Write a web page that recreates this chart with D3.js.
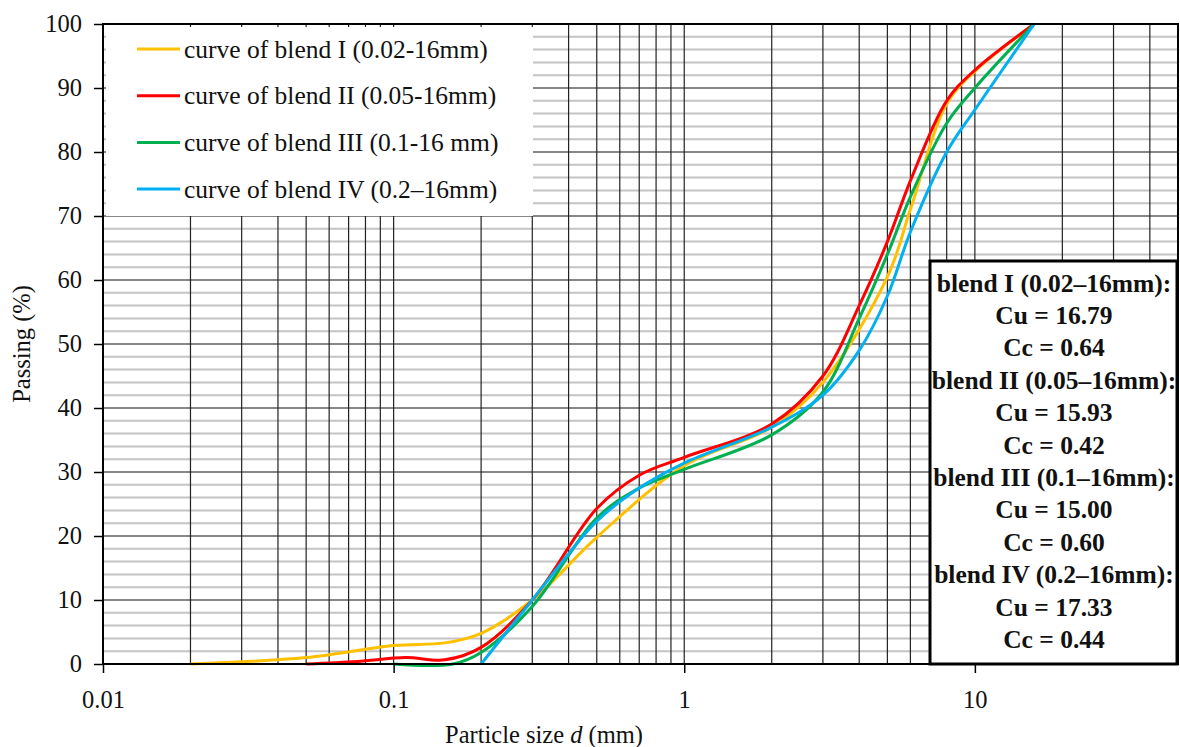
<!DOCTYPE html>
<html>
<head>
<meta charset="utf-8">
<script src="https://cdn.jsdelivr.net/npm/d3@7"></script>
<style>
  body { margin: 0; background: #fff; }
  svg text { font-family: "Liberation Serif", "Times New Roman", serif; fill: #111; }
</style>
</head>
<body>
<svg id="chart" width="1180" height="747"></svg>
<script>
// particle size (mm) and passing (%)
var sizesI = [0.02, 0.05, 0.1, 0.15, 0.2, 0.3, 0.5, 1, 2, 3, 5, 6, 8, 10, 16];
var passingI = [0, 1.0, 2.9, 3.3, 4.8, 10, 19.8, 31, 37, 44, 60.5, 71, 87.5, 92.6, 100];

var sizesII = [0.05, 0.075, 0.11, 0.15, 0.2, 0.3, 0.5, 0.7, 1, 2, 3, 4, 5, 6, 8, 10, 16];
var passingII = [0, 0.4, 1.0, 0.65, 2.6, 10, 24.3, 29.5, 32.3, 37.5, 45, 56, 66, 75.5, 88, 92.8, 100];

var sizesIII = [0.1, 0.16, 0.2, 0.3, 0.5, 0.7, 1, 2, 3, 4, 5, 6, 8, 10, 16];
var passingIII = [0, 0, 1.8, 9, 22.8, 27.5, 30.4, 35.8, 42.5, 54, 64, 73, 84.5, 90, 100];

var sizesIV = [0.2, 0.3, 0.5, 0.7, 1, 2, 3, 4, 5, 6, 8, 10, 16];
var passingIV = [0, 10, 22.3, 27.5, 31.4, 37, 42, 49, 57.5, 67.5, 80, 86.6, 100];

var seriesNames = ["curve of blend I (0.02-16mm)", "curve of blend II (0.05-16mm)", "curve of blend III (0.1-16 mm)", "curve of blend IV (0.2\u201316mm)"];
var seriesColors = ["#ffc000", "#ff0000", "#00b050", "#00b0f0"];

var blendLabels = ["blend I (0.02\u201316mm):", "blend II (0.05\u201316mm):", "blend III (0.1\u201316mm):", "blend IV (0.2\u201316mm):"];
var cuValues = ["16.79", "15.93", "15.00", "17.33"];
var ccValues = ["0.64", "0.42", "0.60", "0.44"];

var xTicks = [0.01, 0.1, 1, 10];
var yTicks = [0, 10, 20, 30, 40, 50, 60, 70, 80, 90, 100];

var svg = d3.select("#chart");
var plotLeft = 103, plotRight = 1178, plotTop = 24, plotBottom = 664;
var fontSize = "24.5px";
var boxFont = "25.5px";

var x = d3.scaleLog().domain([0.01, 50]).range([plotLeft, plotRight]);
var y = d3.scaleLinear().domain([0, 100]).range([plotBottom, plotTop]);

// grid: every 2 % (grey) and every 10 % (black), log minor lines
var grid = svg.append("g");
d3.range(0, 101, 2).forEach(function(v) {
    var major = v % 10 === 0;
    grid.append("line")
        .attr("x1", plotLeft).attr("x2", plotRight)
        .attr("y1", y(v)).attr("y2", y(v))
        .style("stroke", major ? "#111" : "#c4c4c4")
        .style("stroke-width", major ? 1.2 : 2);
});
var xGrid = [];
[0.01, 0.1, 1, 10].forEach(function(d) {
    for (var k = 1; k <= 9; k++) {
        if (d * k <= 50) xGrid.push(d * k);
    }
});
xGrid.forEach(function(v) {
    grid.append("line")
        .attr("x1", x(v)).attr("x2", x(v))
        .attr("y1", plotTop).attr("y2", plotBottom)
        .style("stroke", "#222")
        .style("stroke-width", 1.2);
});

// curves
var line = d3.line()
    .x(function(d) { return x(d[0]); })
    .y(function(d) { return y(d[1]); })
    .curve(d3.curveCatmullRom.alpha(0.5));

[[sizesI, passingI], [sizesII, passingII], [sizesIII, passingIII], [sizesIV, passingIV]].forEach(function(s, i) {
    svg.append("path")
        .datum(d3.zip(s[0], s[1]))
        .attr("d", line)
        .style("fill", "none")
        .style("stroke", seriesColors[i])
        .style("stroke-width", 3);
});

// legend
var legend = svg.append("g");
legend.append("rect")
    .attr("x", plotLeft + 3).attr("y", plotTop + 3)
    .attr("width", 427).attr("height", 189)
    .style("fill", "#fff");
seriesNames.forEach(function(name, i) {
    var ly = 49 + i * 46.7;
    legend.append("line")
        .attr("x1", 137).attr("x2", 180)
        .attr("y1", ly).attr("y2", ly)
        .style("stroke", seriesColors[i])
        .style("stroke-width", 3);
    legend.append("text")
        .attr("x", 184).attr("y", ly)
        .attr("dominant-baseline", "central")
        .style("font-size", boxFont)
        .text(name);
});

// coefficient box
var box = svg.append("g");
box.append("rect")
    .attr("x", 930).attr("y", 261)
    .attr("width", 247).attr("height", 403)
    .style("fill", "#fff")
    .style("stroke", "#000")
    .style("stroke-width", 3);
var boxLines = [];
blendLabels.forEach(function(b, i) {
    boxLines.push(b, "Cu = " + cuValues[i], "Cc = " + ccValues[i]);
});
boxLines.forEach(function(t, i) {
    box.append("text")
        .attr("x", 1054).attr("y", 283 + i * 32.4)
        .attr("text-anchor", "middle")
        .attr("dominant-baseline", "central")
        .style("font-size", boxFont)
        .style("font-weight", "bold")
        .text(t);
});

// frame and axes
svg.append("rect")
    .attr("x", plotLeft).attr("y", plotTop)
    .attr("width", plotRight - plotLeft).attr("height", plotBottom - plotTop)
    .style("fill", "none")
    .style("stroke", "#000")
    .style("stroke-width", 2);

var xAxis = svg.append("g")
    .attr("transform", "translate(0," + plotBottom + ")")
    .call(d3.axisBottom(x).tickValues(xTicks).tickSize(9).tickPadding(18)
        .tickFormat(function(d) { return String(d); }));
var yAxis = svg.append("g")
    .attr("transform", "translate(" + plotLeft + ",0)")
    .call(d3.axisLeft(y).tickValues(yTicks).tickSize(9).tickPadding(12));

[xAxis, yAxis].forEach(function(a) {
    a.select(".domain").remove();
    a.selectAll(".tick line").style("stroke", "#000").style("stroke-width", 1.5);
    a.selectAll(".tick text")
        .style("font-family", "'Liberation Serif', serif")
        .style("font-size", fontSize)
        .style("fill", "#111");
});

// axis titles
var xTitle = svg.append("text")
    .attr("x", 544).attr("y", 743)
    .attr("text-anchor", "middle")
    .style("font-size", fontSize);
xTitle.append("tspan").text("Particle size ");
xTitle.append("tspan").style("font-style", "italic").text("d");
xTitle.append("tspan").text(" (mm)");

svg.append("text")
    .attr("transform", "translate(30,344) rotate(-90)")
    .attr("text-anchor", "middle")
    .style("font-size", fontSize)
    .text("Passing (%)");
</script>
</body>
</html>
